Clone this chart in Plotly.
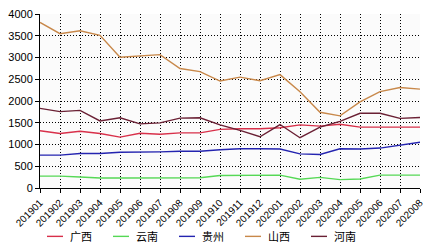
import plotly.graph_objects as go

months = ["201901","201902","201903","201904","201905","201906","201907","201908","201909","201910",
          "201911","201912","202001","202002","202003","202004","202005","202006","202007","202008"]

guangxi = [1318,1252,1304,1252,1170,1259,1237,1267,1267,1348,1363,1363,1385,1452,1422,1467,1400,1400,1400,1400]
yunnan  = [274,274,252,230,230,230,237,237,237,289,296,296,296,200,244,193,207,296,296,296]
guizhou = [755,755,793,793,822,822,830,844,844,881,903,903,896,785,770,903,896,918,985,1052]
shanxi  = [3807,3548,3615,3511,3007,3030,3067,2748,2674,2459,2548,2466,2607,2215,1740,1659,1978,2215,2311,2274]
henan   = [1830,1755,1785,1541,1615,1474,1496,1607,1615,1452,1326,1178,1459,1156,1400,1533,1718,1718,1600,1622]

names = ["广西","云南","贵州","山西","河南"]
series = [guangxi, yunnan, guizhou, shanxi, henan]
colors = ["#d8304a", "#55d855", "#2424b0", "#c8884a", "#6a2034"]

yticks = [0,500,1000,1500,2000,2500,3000,3500,4000]

fig = go.Figure()
for n, s, c in zip(names, series, colors):
    fig.add_trace(go.Scatter(x=months, y=s, name=n, mode="lines",
                             line=dict(color=c, width=1.4), showlegend=False))

font = "Liberation Sans, Arial, sans-serif"
fig.update_layout(
    width=446, height=248,
    margin=dict(l=40, r=26, t=8, b=60),
    paper_bgcolor="white", plot_bgcolor="#fbfbfb",
    font=dict(family=font, size=11, color="black"),
    xaxis=dict(type="category", range=[0, len(months) - 1], tickangle=-45,
               showgrid=True, gridcolor="black", griddash="1px,2px", gridwidth=1,
               showline=True, linecolor="black", linewidth=1,
               ticks="outside", ticklen=4, tickcolor="black",
               tickfont=dict(size=10, family=font)),
    yaxis=dict(range=[0, 4000], tickvals=yticks,
               showgrid=True, gridcolor="black", griddash="1px,2px", gridwidth=1,
               showline=True, linecolor="black", linewidth=1, zeroline=False,
               ticks="outside", ticklen=4, tickcolor="black",
               tickfont=dict(size=11, family=font)),
)

# manual legend below plot
legend_y = -0.278
for i, (n, c) in enumerate(zip(names, colors)):
    x0 = (47 + 66 * i - 40) / 380
    x1 = (63 + 66 * i - 40) / 380
    fig.add_shape(type="line", xref="paper", yref="paper", x0=x0, x1=x1, y0=legend_y, y1=legend_y,
                  line=dict(color=c, width=1.4))
    fig.add_annotation(xref="paper", yref="paper", x=(68 + 66 * i - 40) / 380, y=legend_y,
                       text=n, showarrow=False, xanchor="left", yanchor="middle",
                       font=dict(size=11, family="Noto Sans CJK SC", color="black"))

fig.write_html("out.html")
